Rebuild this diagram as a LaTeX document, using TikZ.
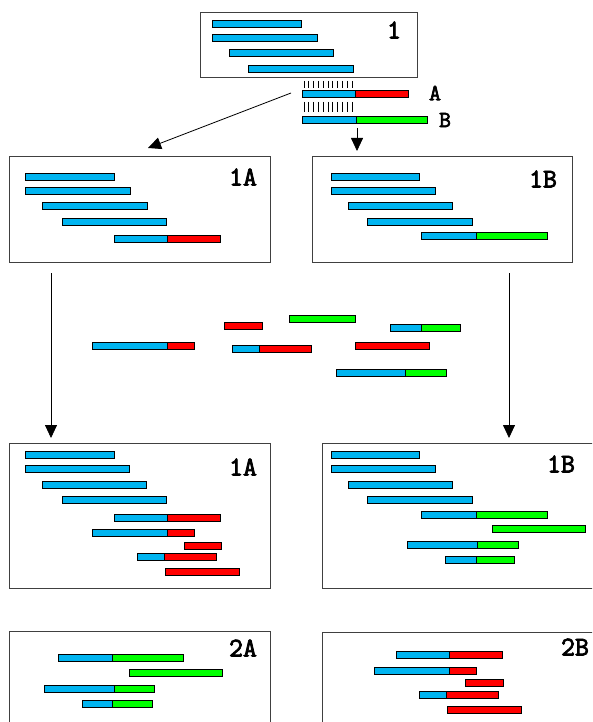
\documentclass[tikz,border=0pt]{standalone}
\usepackage{fontspec}
\newfontfamily\poolfont{Latin Modern Mono}[FakeBold=3]
\usetikzlibrary{arrows.meta}
\definecolor{readblue}{RGB}{0,180,240}
\definecolor{readred}{RGB}{255,0,0}
\definecolor{readgreen}{RGB}{0,255,0}
\begin{document}
\begin{tikzpicture}[x=1pt,y=-1pt,
  pool/.style={draw=black!75,line width=0.8pt},
  blu/.style={draw=black,line width=0.7pt,fill=readblue},
  rd/.style={draw=black,line width=0.7pt,fill=readred},
  grn/.style={draw=black,line width=0.7pt,fill=readgreen},
  arr/.style={line width=0.8pt,-{Triangle[width=12pt,length=13pt]}},
  lbl/.style={font=\poolfont\fontsize{27}{27}\selectfont,inner sep=0pt}]
\useasboundingbox (0,0) rectangle (592,722);
\clip (0,0) rectangle (592,722);
% pools
\draw[pool] (200,12) rectangle (417,77);
\draw[pool] (9,156) rectangle (270,262);
\draw[pool] (312,156) rectangle (572,262);
\draw[pool] (9,443) rectangle (270,588);
\draw[pool] (322,443) rectangle (600,588);
\draw[pool] (9,631) rectangle (270,730);
\draw[pool] (322,632) rectangle (600,730);
% labels
\node[lbl] (p1) at (394,30) {1};
\node[lbl,font=\poolfont\fontsize{23}{23}\selectfont] (pa) at (435,93) {A};
\node[lbl,font=\poolfont\fontsize{23}{23}\selectfont] (pb) at (445,120) {B};
\node[lbl] (p1a) at (243,177) {1A};
\node[lbl] (p1b) at (543,179) {1B};
\node[lbl] (q1a) at (243,467) {1A};
\node[lbl] (q1b) at (561,464) {1B};
\node[lbl] (p2a) at (243,648) {2A};
\node[lbl] (p2b) at (575,647) {2B};
% plain blue reads
\foreach \a/\b/\y in {212/301/20,212/317/34,229/333/49,248/353/65,
  25/114/173,25/130/187,42/147/202,62/166/218,
  331/419/173,331/435/187,348/452/202,367/472/218,
  25/114/451,25/129/465,42/146/481,62/166/496,
  331/419/451,331/435/465,348/452/481,367/472/496}
  \draw[blu] (\a,\y) rectangle (\b,\y+7);
% blue-red reads
\foreach \a/\m/\b/\y in {302/355/408/90,114/167/220/235,92/167/194/342,232/259/311/345,
  114/167/220/514,92/167/194/529,137/164/216/553,
  396/449/502/651,374/449/476/667,419/446/498/691}
  {\draw[blu] (\a,\y) rectangle (\m,\y+7);
   \draw[rd] (\m,\y) rectangle (\b,\y+7);}
% blue-green reads
\foreach \a/\m/\b/\y in {302/356/427/116,421/476/547/232,390/421/460/324,336/405/446/369,
  421/476/547/511,407/477/518/541,445/476/514/556,
  58/112/183/654,44/114/154/685,82/112/152/700}
  {\draw[blu] (\a,\y) rectangle (\m,\y+7);
   \draw[grn] (\m,\y) rectangle (\b,\y+7);}
% red only
\foreach \a/\b/\y in {224/262/322,355/429/342,184/221/542,165/239/568,465/503/679,447/521/706}
  \draw[rd] (\a,\y) rectangle (\b,\y+7);
% green only
\foreach \a/\b/\y in {289/355/315,492/585/525,129/222/669}
  \draw[grn] (\a,\y) rectangle (\b,\y+7);
% pairing marks
\foreach \i in {0,...,10}
  {\draw[line width=0.7pt] (304+4.8*\i,81) -- (304+4.8*\i,88);
   \draw[line width=0.7pt] (304+4.8*\i,102) -- (304+4.8*\i,112);}
% arrows
\coordinate (s1) at (291,93);
\coordinate (e1) at (148,148);
\coordinate (s2) at (357,128);
\coordinate (e2) at (357,151);
\coordinate (s3) at (51,273);
\coordinate (e3) at (51,438);
\coordinate (s4) at (509,273);
\coordinate (e4) at (509,438);
\draw[arr] (s1) -- (e1);
\draw[arr] (s2) -- (e2);
\draw[arr] (s3) -- (e3);
\draw[arr] (s4) -- (e4);
\end{tikzpicture}
\end{document}
